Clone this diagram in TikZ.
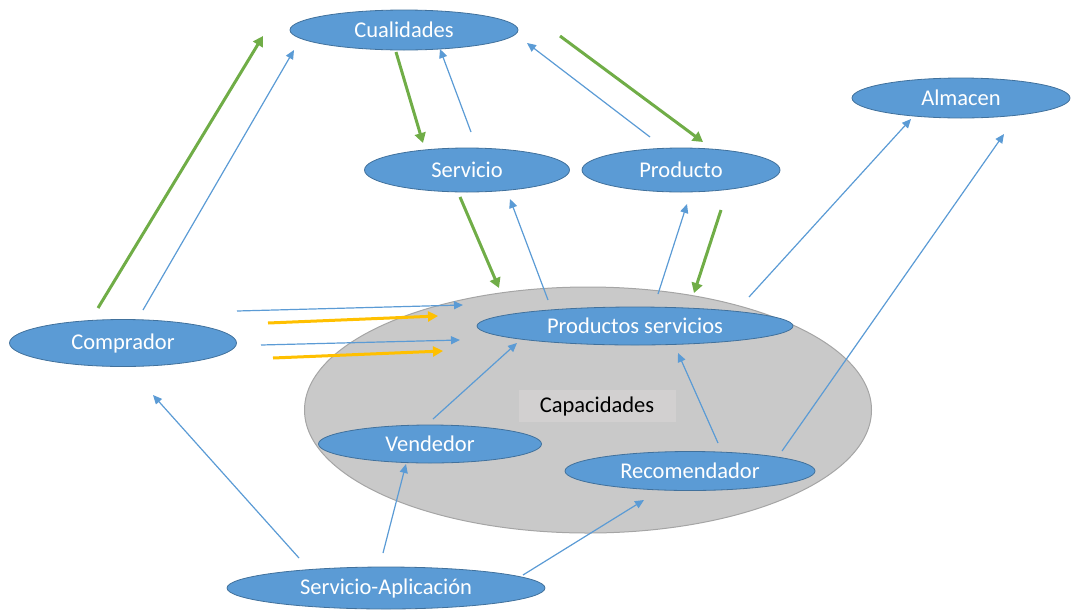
\documentclass[tikz,border=0pt]{standalone}
\usepackage{fontspec}
\setmainfont{Carlito}
\usepackage{xcolor}
\usepackage{tikz}
\usetikzlibrary{shapes.geometric, arrows.meta}

\definecolor{azul}{HTML}{5B9BD5}
\definecolor{azulborde}{HTML}{41719C}
\definecolor{verde}{HTML}{70AD47}
\definecolor{amarillo}{HTML}{FFC000}
\definecolor{grisfondo}{HTML}{C9C9C9}
\definecolor{grisborde}{HTML}{A5A5A5}
\definecolor{grisetiqueta}{HTML}{D2D0D0}

\tikzset{
  elipse/.style={ellipse, draw=azulborde, line width=0.8pt, fill=azul, text=white,
    inner sep=0pt, font=\fontsize{22.5}{26}\selectfont},
  flechaazul/.style={draw=azul, line width=1.2pt, -{Triangle[length=9pt,width=8pt]}},
  flechaverde/.style={draw=verde, line width=3pt, -{Triangle[length=10pt,width=11pt]}},
  flechaamarilla/.style={draw=amarillo, line width=3pt, -{Triangle[length=10pt,width=10pt]}}
}

\begin{document}
\begin{tikzpicture}[x=1pt, y=-1pt]
\useasboundingbox (0,0) rectangle (1071,611);

% Capacidades
\node[ellipse, draw=grisborde, line width=1pt, fill=grisfondo,
  minimum width=567pt, minimum height=246pt] (cap) at (588,410) {};
\node[fill=grisetiqueta, minimum width=157pt, minimum height=32pt,
  font=\fontsize{22.5}{26}\selectfont] (capl) at (597,406) {Capacidades};

% Elipses
\node[elipse, minimum width=228pt, minimum height=40pt] (cual) at (404,30) {Cualidades};
\node[elipse, minimum width=205pt, minimum height=44pt] (serv) at (467,170) {Servicio};
\node[elipse, minimum width=198pt, minimum height=44pt] (prod) at (681,170) {Producto};
\node[elipse, minimum width=218pt, minimum height=40pt] (alm) at (961,98) {Almacen};
\node[elipse, minimum width=227pt, minimum height=47pt] (comp) at (123,343) {Comprador};
\node[elipse, minimum width=316pt, minimum height=38pt] (ps) at (635,326) {Productos servicios};
\node[elipse, minimum width=223pt, minimum height=38pt] (vend) at (430,444) {Vendedor};
\node[elipse, minimum width=250pt, minimum height=39pt] (rec) at (690,471) {Recomendador};
\node[elipse, minimum width=318pt, minimum height=42pt] (sa) at (386,588) {Servicio-Aplicación};

% Conexiones verdes
\path
([shift={(-25,-35)}]comp.center) edge[flechaverde] ([shift={(-141,6)}]cual.center)
([shift={(-8,22)}]cual.center) edge[flechaverde] ([shift={(-44,-27)}]serv.center)
([shift={(156,6)}]cual.center) edge[flechaverde] ([shift={(22,-28)}]prod.center)
([shift={(-7,27)}]serv.center) edge[flechaverde] ([shift={(-136,-38)}]ps.center)
([shift={(40,40)}]prod.center) edge[flechaverde] ([shift={(59,-33)}]ps.center);

% Conexiones azules
\path
([shift={(20,-33)}]comp.center) edge[flechaazul] ([shift={(-110,20)}]cual.center)
([shift={(4,-38)}]serv.center) edge[flechaazul] ([shift={(36,19)}]cual.center)
([shift={(-31,-33)}]prod.center) edge[flechaazul] ([shift={(123,13)}]cual.center)
([shift={(-87,-26)}]ps.center) edge[flechaazul] ([shift={(43,29)}]serv.center)
([shift={(23,-32)}]ps.center) edge[flechaazul] ([shift={(6,34)}]prod.center)
([shift={(114,-29)}]ps.center) edge[flechaazul] ([shift={(-50,21)}]alm.center)
([shift={(92,-20)}]rec.center) edge[flechaazul] ([shift={(43,36)}]alm.center)
([shift={(114,-32)}]comp.center) edge[flechaazul] ([shift={(-172,-21)}]ps.center)
([shift={(138,2)}]comp.center) edge[flechaazul] ([shift={(-175,14)}]ps.center)
([shift={(3,-25)}]vend.center) edge[flechaazul] ([shift={(-118,17)}]ps.center)
([shift={(28,-28)}]rec.center) edge[flechaazul] ([shift={(43,27)}]ps.center)
([shift={(-87,-30)}]sa.center) edge[flechaazul] ([shift={(30,52)}]comp.center)
([shift={(-3,-35)}]sa.center) edge[flechaazul] ([shift={(-24,20)}]vend.center)
([shift={(137,-13)}]sa.center) edge[flechaazul] ([shift={(-46,29)}]rec.center);

% Conexiones amarillas
\path
([shift={(145,-20)}]comp.center) edge[flechaamarilla] ([shift={(-197,-10)}]ps.center)
([shift={(150,15)}]comp.center) edge[flechaamarilla] ([shift={(-192,25)}]ps.center);
\end{tikzpicture}
\end{document}
